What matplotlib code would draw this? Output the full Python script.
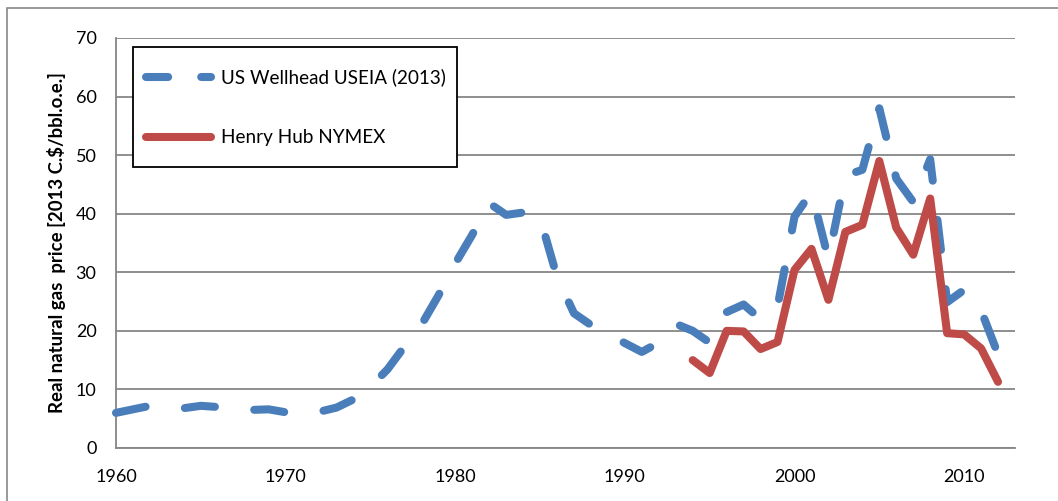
import matplotlib
matplotlib.use("Agg")
import matplotlib.pyplot as plt
from matplotlib.lines import Line2D
from matplotlib.patches import Rectangle

plt.rcParams['font.family'] = ['Lato', 'DejaVu Sans']

years_wellhead = list(range(1960, 2013))
wellhead = [6.0, 6.6, 7.2, 7.0, 6.8, 7.2, 7.0, 6.8, 6.5, 6.6,
            6.1, 6.3, 6.2, 6.9, 8.3, 10.5, 13.4, 17.3, 21.0, 26.0,
            31.5, 36.4, 41.8, 39.8, 40.2, 39.3, 29.2, 23.0, 21.0, 19.5,
            17.9, 16.4, 18.0, 21.2, 20.0, 18.0, 23.2, 24.5, 22.0, 24.1,
            39.5, 43.7, 32.3, 46.5, 47.5, 58.0, 46.0, 42.0, 49.3, 24.9,
            27.0, 23.5, 16.0]

years_hh = list(range(1994, 2013))
henry_hub = [15.0, 12.8, 20.0, 19.9, 16.9, 18.1, 30.4, 34.0, 25.3, 36.9,
             38.1, 49.0, 37.6, 33.0, 42.6, 19.6, 19.4, 17.0, 11.3]

label_wellhead = "US Wellhead USEIA (2013)"
label_hh = "Henry Hub NYMEX"
y_label = "Real natural gas  price [2013 C.$/bbl.o.e.]"
x_ticks = [1960, 1970, 1980, 1990, 2000, 2010]
y_ticks = [0, 10, 20, 30, 40, 50, 60, 70]

W, H = 1058, 501
fig = plt.figure(figsize=(W / 100, H / 100), dpi=100)
ax = fig.add_axes([116 / W, 1 - 448 / H, (1015 - 116) / W, (448 - 38) / H])

blue = '#4A7EBB'
red = '#BE4B48'
grid_c = '#868686'
lw = 5.8

ax.plot(years_wellhead, wellhead, color=blue, lw=lw, dashes=(3.75, 4.9),
        dash_capstyle='round', solid_capstyle='round', clip_on=False, zorder=3)
ax.plot(years_hh, henry_hub, color=red, lw=lw, solid_capstyle='round',
        solid_joinstyle='round', clip_on=False, zorder=4)

ax.set_xlim(1960, 2013)
ax.set_ylim(0, 70)
ax.set_xticks(x_ticks)
ax.set_yticks(y_ticks)
ax.grid(axis='y', color=grid_c, lw=1.3)
ax.set_axisbelow(True)
for s in ['top', 'right']:
    ax.spines[s].set_visible(False)
ax.spines['left'].set_color(grid_c)
ax.spines['bottom'].set_color(grid_c)
ax.spines['left'].set_linewidth(1.3)
ax.spines['bottom'].set_linewidth(1.3)
ax.tick_params(axis='both', length=0, labelsize=13, colors='black')
ax.tick_params(axis='y', pad=14)
ax.tick_params(axis='x', pad=15)
ax.set_ylabel(y_label, fontsize=13.4, fontweight='bold')
ax.yaxis.set_label_coords(-0.056, 0.5)


def px(x, y):
    return x / W, 1 - y / H


# Legend drawn in figure pixel positions
lx0, ly0, lx1, ly1 = 133, 47, 457, 167
fig.patches.append(Rectangle(px(lx0, ly1), (lx1 - lx0) / W, (ly1 - ly0) / H,
                             transform=fig.transFigure, facecolor='white',
                             edgecolor='black', lw=1.3, zorder=10))
hx0, hx1 = 146, 211
for yy, col, kw, lab in [(77, blue, dict(dashes=(2.75, 4.1), dash_capstyle='round'), label_wellhead),
                         (137, red, dict(solid_capstyle='round'), label_hh)]:
    (xa, ya), (xb, yb) = px(hx0, yy), px(hx1, yy)
    fig.add_artist(Line2D([xa, xb], [ya, yb], transform=fig.transFigure,
                          color=col, lw=lw, zorder=11, **kw))
    tx, ty = px(221, yy)
    fig.text(tx, ty, lab, fontsize=13.6, va='center', ha='left', zorder=12)

fig.patches.append(Rectangle((7 / W, -0.1), 1.2, 1 - 8 / H + 0.1,
                             transform=fig.transFigure, fill=False,
                             edgecolor='#888888', lw=1.2))

fig.savefig('out.png', dpi=100)
